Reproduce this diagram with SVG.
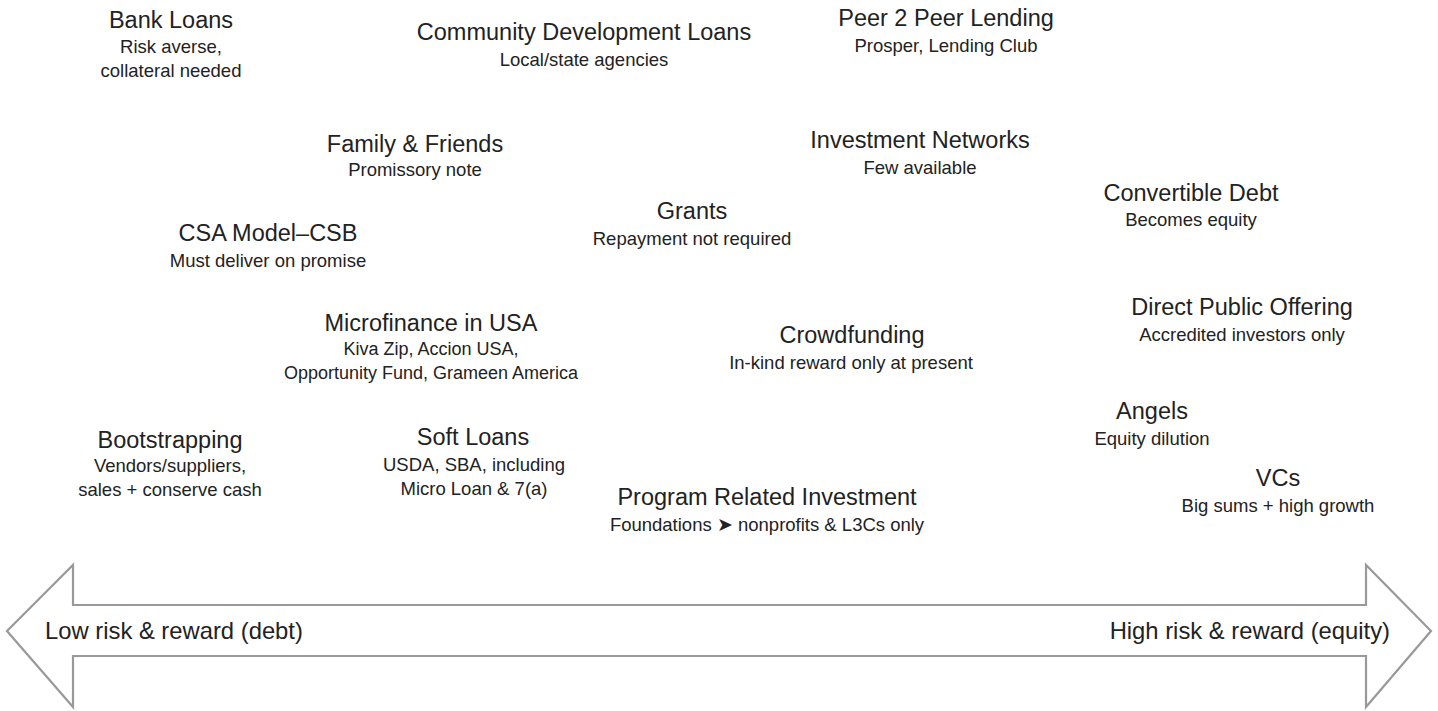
<svg xmlns="http://www.w3.org/2000/svg" width="1438" height="711" viewBox="0 0 1438 711">
<style>
text{font-family:"Liberation Sans",Arial,sans-serif;fill:#222;text-anchor:middle}
.t{font-size:23.5px}
.s{font-size:18.5px}
.a{font-size:23.8px}
.arrow{fill:#fff;stroke:#999;stroke-width:2.2}
</style>
<rect width="1438" height="711" fill="#fff"/>
<g id="connectors">
<path class="arrow" d="M7,631 L73,565 L73,605 L1366,605 L1366,565 L1431,631 L1366,707 L1366,656 L73,656 L73,707 Z"/>
</g>
<g id="axis-labels">
<text class="a" x="45" y="639" style="text-anchor:start">Low risk &amp; reward (debt)</text>
<text class="a" x="1390" y="639" style="text-anchor:end">High risk &amp; reward (equity)</text>
</g>
<g id="bank-loans"><text class="t" x="171" y="28">Bank Loans</text><text class="s" x="171" y="53">Risk averse,</text><text class="s" x="171" y="77">collateral needed</text></g>
<g id="community-development-loans"><text class="t" x="584" y="40">Community Development Loans</text><text class="s" x="584" y="66">Local/state agencies</text></g>
<g id="peer-2-peer"><text class="t" x="946" y="26">Peer 2 Peer Lending</text><text class="s" x="946" y="52">Prosper, Lending Club</text></g>
<g id="family-friends"><text class="t" x="415" y="152">Family &amp; Friends</text><text class="s" x="415" y="176">Promissory note</text></g>
<g id="investment-networks"><text class="t" x="920" y="148">Investment Networks</text><text class="s" x="920" y="174">Few available</text></g>
<g id="convertible-debt"><text class="t" x="1191" y="201">Convertible Debt</text><text class="s" x="1191" y="226">Becomes equity</text></g>
<g id="grants"><text class="t" x="692" y="219">Grants</text><text class="s" x="692" y="245">Repayment not required</text></g>
<g id="csa-model"><text class="t" x="268" y="241">CSA Model–CSB</text><text class="s" x="268" y="267">Must deliver on promise</text></g>
<g id="direct-public-offering"><text class="t" x="1242" y="315">Direct Public Offering</text><text class="s" x="1242" y="341">Accredited investors only</text></g>
<g id="microfinance"><text class="t" x="431" y="331">Microfinance in USA</text><text class="s" x="431" y="355" style="font-size:18px">Kiva Zip, Accion USA,</text><text class="s" x="431" y="379" style="font-size:18px">Opportunity Fund, Grameen America</text></g>
<g id="crowdfunding"><text class="t" x="852" y="343">Crowdfunding</text><text class="s" x="851" y="369">In-kind reward only at present</text></g>
<g id="angels"><text class="t" x="1152" y="419">Angels</text><text class="s" x="1152" y="445">Equity dilution</text></g>
<g id="bootstrapping"><text class="t" x="170" y="448">Bootstrapping</text><text class="s" x="170" y="472">Vendors/suppliers,</text><text class="s" x="170" y="496">sales + conserve cash</text></g>
<g id="soft-loans"><text class="t" x="473" y="445">Soft Loans</text><text class="s" x="474" y="471">USDA, SBA, including</text><text class="s" x="474" y="495">Micro Loan &amp; 7(a)</text></g>
<g id="program-related-investment"><text class="t" x="767" y="505">Program Related Investment</text><text class="s" x="767" y="531">Foundations ➤ nonprofits &amp; L3Cs only</text></g>
<g id="vcs"><text class="t" x="1278" y="486">VCs</text><text class="s" x="1278" y="512">Big sums + high growth</text></g>
</svg>
